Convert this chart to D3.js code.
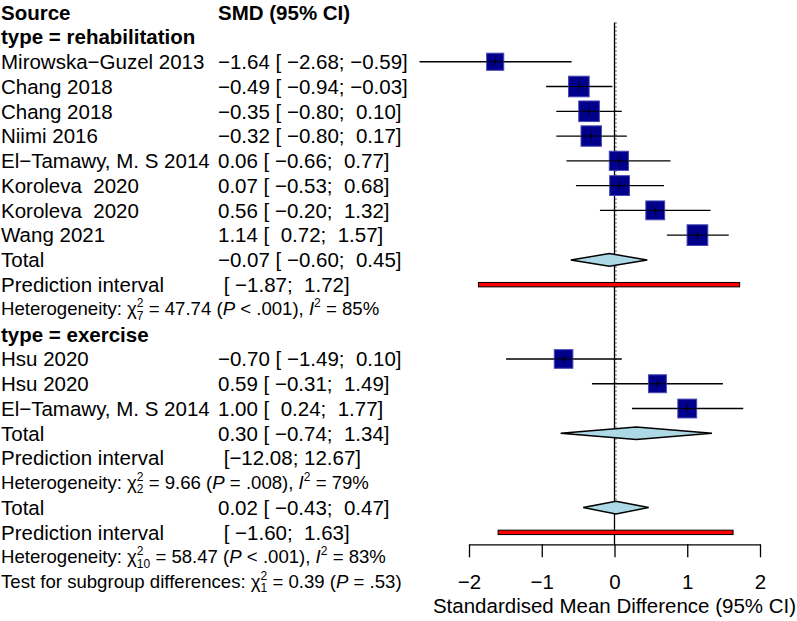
<!DOCTYPE html>
<html>
<head>
<meta charset="utf-8">
<script src="https://cdn.jsdelivr.net/npm/d3@7"></script>
<style>
  html, body { margin: 0; padding: 0; background: #fff; }
  svg text { font-family: "Liberation Sans", Arial, Helvetica, sans-serif; white-space: pre; }
</style>
</head>
<body>
<svg id="chart" width="797" height="621"></svg>
<script>
// ---------------- DATA ----------------
const studyLabels = ["Mirowska−Guzel 2013", "Chang 2018", "Chang 2018", "Niimi 2016",
  "El−Tamawy, M. S 2014", "Koroleva  2020", "Koroleva  2020", "Wang 2021",
  "Hsu 2020", "Hsu 2020", "El−Tamawy, M. S 2014"];
const studyGroup = ["rehabilitation", "rehabilitation", "rehabilitation", "rehabilitation",
  "rehabilitation", "rehabilitation", "rehabilitation", "rehabilitation",
  "exercise", "exercise", "exercise"];
const smd   = [-1.64, -0.49, -0.35, -0.32, 0.06, 0.07, 0.56, 1.14, -0.70, 0.59, 1.00];
const lower = [-2.68, -0.94, -0.80, -0.80, -0.66, -0.53, -0.20, 0.72, -1.49, -0.31, 0.24];
const upper = [-0.59, -0.03, 0.10, 0.17, 0.77, 0.68, 1.32, 1.57, 0.10, 1.49, 1.77];
const weight = [7.1, 10.3, 10.3, 10.1, 8.9, 9.5, 8.6, 10.4, 8.4, 7.8, 8.6];

const groups = ["rehabilitation", "exercise"];
const groupEst   = [-0.07, 0.30];
const groupLower = [-0.60, -0.74];
const groupUpper = [0.45, 1.34];
const groupPredLower = [-1.87, -12.08];
const groupPredUpper = [1.72, 12.67];
const groupQ  = [47.74, 9.66];
const groupDf = [7, 2];
const groupP  = ["< .001", "= .008"];
const groupI2 = [85, 79];

const overallEst = 0.02, overallLower = -0.43, overallUpper = 0.47;
const overallPredLower = -1.60, overallPredUpper = 1.63;
const overallQ = 58.47, overallDf = 10, overallP = "< .001", overallI2 = 83;
const subgroupQ = 0.39, subgroupDf = 1, subgroupP = "= .53";

const xTicks = [-2, -1, 0, 1, 2];
const axisTitle = "Standardised Mean Difference (95% CI)";

// ---------------- LAYOUT ----------------
const svg = d3.select("#chart");
const FS = 20.5, FSH = 18.6;
const x = d3.scaleLinear().domain([-2, 2]).range([469, 760]);
const plotDomain = [-2.8, 2.5];
const row0 = 12.2, step = 24.77;
const rowY = i => row0 + i * step;
const colEffX = 218;
const fmt = v => v.toFixed(2).replace("-", "−");
const ciText = (lo, hi) => "[" + fmt(lo).padStart(6, " ") + "; " + fmt(hi).padStart(5, " ") + "]";
const side = d3.scaleSqrt().domain([0, d3.max(weight)]).range([0, 20.7]);

// build rows
const rows = [];
rows.push({type: "header"});
groups.forEach((g, gi) => {
  rows.push({type: "group", label: "type = " + g});
  studyLabels.forEach((l, i) => {
    if (studyGroup[i] === g) rows.push({type: "study", i});
  });
  rows.push({type: "total", est: groupEst[gi], lo: groupLower[gi], hi: groupUpper[gi]});
  rows.push({type: "pred", lo: groupPredLower[gi], hi: groupPredUpper[gi]});
  rows.push({type: "het", q: groupQ[gi], df: groupDf[gi], p: groupP[gi], i2: groupI2[gi]});
});
rows.push({type: "total", est: overallEst, lo: overallLower, hi: overallUpper, overall: true});
rows.push({type: "pred", lo: overallPredLower, hi: overallPredUpper});
rows.push({type: "het", q: overallQ, df: overallDf, p: overallP, i2: overallI2});
rows.push({type: "test", q: subgroupQ, df: subgroupDf, p: subgroupP});

const overallRow = rows.findIndex(r => r.overall);

// reference lines
svg.append("line").attr("x1", x(0)).attr("x2", x(0))
  .attr("y1", rowY(0.42)).attr("y2", 544.3)
  .attr("stroke", "#000").attr("stroke-width", 1.3);
svg.append("line").attr("x1", x(overallEst)).attr("x2", x(overallEst))
  .attr("y1", rowY(0.42)).attr("y2", rowY(overallRow) - 6)
  .attr("stroke", "#000").attr("stroke-width", 1.2).attr("stroke-dasharray", "1 3");

function txt(xp, y, s, opts = {}) {
  return svg.append("text").attr("x", xp).attr("y", y)
    .attr("xml:space", "preserve")
    .attr("font-size", opts.fs || FS)
    .attr("font-weight", opts.bold ? "bold" : "normal")
    .attr("fill", "#000").text(s);
}

// heterogeneity line: plain runs plus stacked super/subscripts
function hetText(y, parts) {
  const t = svg.append("text").attr("x", 1).attr("y", y).attr("xml:space", "preserve")
    .attr("font-size", FSH).attr("fill", "#000");
  const sfs = 12;
  const SUP = -8, SUB = 4.5;
  let pending = null;
  parts.forEach(p => {
    if (p.sup !== undefined) {
      const wSup = String(p.sup).length * 0.556 * sfs;
      const s1 = t.append("tspan").attr("font-size", sfs).attr("dy", SUP).text(String(p.sup));
      if (pending) s1.attr("dx", pending.dx);
      if (p.sub !== undefined) {
        const wSub = String(p.sub).length * 0.556 * sfs;
        t.append("tspan").attr("font-size", sfs).attr("dx", -wSup).attr("dy", SUB - SUP).text(String(p.sub));
        pending = {dy: -SUB, dx: Math.max(0, wSup - wSub)};
      } else {
        pending = {dy: -SUP, dx: 0};
      }
    } else {
      const ts = t.append("tspan").text(p.t);
      if (p.i) ts.attr("font-style", "italic");
      if (pending) { ts.attr("dy", pending.dy).attr("dx", pending.dx); pending = null; }
    }
  });
}

rows.forEach((r, ri) => {
  const y = rowY(ri);
  const by = y + 7.3;
  if (r.type === "header") {
    txt(1, by, "Source", {bold: true});
    txt(colEffX, by, "SMD (95% CI)", {bold: true});
  } else if (r.type === "group") {
    txt(1, by, r.label, {bold: true});
  } else if (r.type === "study") {
    const i = r.i;
    txt(1, by, studyLabels[i]);
    txt(colEffX, by, fmt(smd[i]) + " " + ciText(lower[i], upper[i]));
    svg.append("line").attr("x1", x(lower[i])).attr("x2", x(upper[i]))
      .attr("y1", y).attr("y2", y).attr("stroke", "#000").attr("stroke-width", 1.3);
    const s = side(weight[i]);
    svg.append("rect").attr("x", x(smd[i]) - s / 2).attr("y", y - s / 2)
      .attr("width", s).attr("height", s)
      .attr("fill", "#00008B").attr("stroke", "#4646b4").attr("stroke-width", 1);
    svg.append("line").attr("x1", x(smd[i]) - s / 2).attr("x2", x(smd[i]) + s / 2)
      .attr("y1", y).attr("y2", y).attr("stroke", "#000").attr("stroke-width", 1);
    svg.append("line").attr("x1", x(smd[i])).attr("x2", x(smd[i]))
      .attr("y1", y - 3.3).attr("y2", y + 3.3).attr("stroke", "#000").attr("stroke-width", 1);
  } else if (r.type === "total") {
    txt(1, by, "Total");
    txt(colEffX, by, fmt(r.est) + " " + ciText(r.lo, r.hi));
    const h = 6.3;
    const pts = [[x(r.lo), y], [x(r.est), y - h], [x(r.hi), y], [x(r.est), y + h]];
    svg.append("path").attr("d", d3.line()(pts) + "Z")
      .attr("fill", "#ADD8E6").attr("stroke", "#000").attr("stroke-width", 1.5)
      .attr("stroke-linejoin", "miter");
  } else if (r.type === "pred") {
    txt(1, by, "Prediction interval");
    txt(colEffX, by, " " + ciText(r.lo, r.hi));
    if (r.lo >= plotDomain[0] && r.hi <= plotDomain[1]) {
      svg.append("rect").attr("x", x(r.lo)).attr("y", y - 2.2)
        .attr("width", x(r.hi) - x(r.lo)).attr("height", 4.4)
        .attr("fill", "#FF0000").attr("stroke", "#000").attr("stroke-width", 1);
    }
  } else if (r.type === "het") {
    hetText(y + 6, [
      {t: "Heterogeneity: χ"}, {sup: 2, sub: r.df},
      {t: " = " + r.q.toFixed(2) + " ("}, {t: "P", i: true}, {t: " " + r.p + "), "},
      {t: "I", i: true}, {sup: 2}, {t: " = " + r.i2 + "%"}
    ]);
  } else if (r.type === "test") {
    hetText(y + 6, [
      {t: "Test for subgroup differences: χ"}, {sup: 2, sub: r.df},
      {t: " = " + r.q.toFixed(2) + " ("}, {t: "P", i: true}, {t: " " + r.p + ")"}
    ]);
  }
});

// axis
const axis = d3.axisBottom(x).tickValues(xTicks)
  .tickSize(13).tickSizeOuter(0).tickPadding(17.4)
  .tickFormat(d => String(d).replace("-", "−"));
const gA = svg.append("g").attr("transform", "translate(0,544.3)").call(axis);
gA.select(".domain").attr("stroke", "#000").attr("stroke-width", 1.3);
gA.selectAll(".tick line").attr("stroke", "#000").attr("stroke-width", 1.3);
gA.selectAll(".tick text").attr("font-size", FS).attr("fill", "#000")
  .attr("font-family", "Liberation Sans, Arial, sans-serif");
svg.append("text").attr("x", x(0)).attr("y", 613).attr("text-anchor", "middle")
  .attr("font-size", FS).attr("fill", "#000").text(axisTitle);
</script>
</body>
</html>
